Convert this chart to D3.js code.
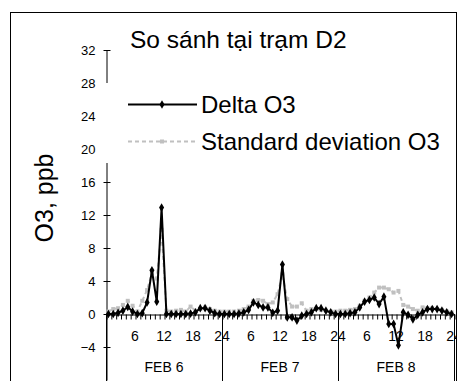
<!DOCTYPE html>
<html>
<head>
<meta charset="utf-8">
<script src="https://cdn.jsdelivr.net/npm/d3@7"></script>
<style>
  body { margin: 0; background: #fff; }
  svg text { font-family: "Liberation Sans", Arial, sans-serif; fill: #000; }
</style>
</head>
<body>
<div id="chart"></div>
<script>
// hourly values, Feb 6 - Feb 8 (72 hours)
const days = ['FEB 6', 'FEB 7', 'FEB 8'];
const hourLabels = [6, 12, 18, 24];
const yTicks = [-4, 0, 4, 8, 12, 16, 20, 24, 28, 32];

const deltaO3 = [
  0, 0, 0.15, 0.4, 0.85, 0.3, 0, 0.1, 1.4, 5.3, 1.5, 12.9,
  0, 0, 0, 0, 0, 0.05, 0.2, 0.7, 0.7, 0.4, 0.1, 0,
  0, 0, 0, 0.05, 0.2, 0.5, 1.4, 1.1, 0.8, 0.8, 0.15, 0.4,
  6.0, -0.4, -0.4, -0.8, -0.2, 0, 0.2, 0.7, 0.7, 0.4, 0.2, 0,
  0, 0, 0.1, 0.2, 0.8, 1.5, 1.7, 2.0, 1.2, 2.1, -1.2, -1.2,
  -3.8, 0.2, -0.1, -0.65, -0.1, 0.2, 0.6, 0.6, 0.6, 0.4, 0.2, 0
];
const stdO3 = [
  0.3, 0.6, 0.7, 1.1, 1.6, 1.0, 0.3, 1.6, 2.9, 5.0, 4.3, 10.2,
  0.4, 0.3, 0.4, 0.5, 0.3, 0.9, 0.4, 0.6, 0.8, 0.6, 0.4, 0.3,
  0.3, 0.3, 0.3, 0.4, 0.6, 0.9, 1.6, 1.7, 1.6, 1.2, 1.4, 2.4,
  4.8, 1.8, 0.9, 0.9, 1.3, 0.4, 0.6, 0.6, 0.5, 0.4, 0.3, 0.3,
  0.4, 0.4, 0.5, 0.6, 1.0, 1.6, 2.0, 2.6, 3.2, 3.2, 3.0, 2.6,
  2.8, 1.1, 0.9, 0.6, 0.4, 0.8, 0.7, 0.7, 0.6, 0.5, 0.3, 0.2
];

const W = 457, H = 381;
const svg = d3.select('#chart').append('svg')
  .attr('width', W).attr('height', H);

// outer frame
svg.append('rect')
  .attr('x', 10.5).attr('y', 12.5)
  .attr('width', 446).attr('height', 420)
  .attr('fill', 'none').attr('stroke', '#000');

const x = d3.scaleLinear().domain([0, 72]).range([106, 454]);
const y = d3.scaleLinear().domain([-8, 32]).range([380, 50]);
const y0 = y(0);

// Y axis
const yAxis = svg.append('g')
  .attr('transform', 'translate(106.5,0)')
  .call(d3.axisLeft(y).tickValues(yTicks).tickSize(3).tickPadding(8).tickSizeOuter(0));
yAxis.select('.domain').attr('stroke', '#000');
yAxis.selectAll('.tick line').attr('x1', 4).attr('x2', -3);
yAxis.selectAll('text').style('font-size', '13px');

// hour ticks
const hourAxis = svg.append('g')
  .attr('transform', `translate(0.5,${y0 + 0.5})`)
  .call(d3.axisBottom(x).tickValues(d3.range(0, 73)).tickSize(5).tickFormat('').tickSizeOuter(0));
hourAxis.select('.domain').attr('stroke', '#000');

// hour labels
svg.append('g')
  .selectAll('text')
  .data(d3.range(3).flatMap(d => hourLabels.map(h => d * 24 + h)))
  .join('text')
  .attr('x', d => x(d))
  .attr('y', y0 + 27)
  .attr('text-anchor', 'middle')
  .style('font-size', '14px')
  .text(d => (d % 24 === 0 ? 24 : d % 24));

// day separators
svg.append('g')
  .selectAll('line')
  .data([0, 24, 48, 72])
  .join('line')
  .attr('x1', d => Math.round(x(d)) + 0.5)
  .attr('x2', d => Math.round(x(d)) + 0.5)
  .attr('y1', y0)
  .attr('y2', H)
  .attr('stroke', '#000');

svg.append('g')
  .selectAll('text')
  .data(days)
  .join('text')
  .attr('x', (d, i) => x(i * 24 + 12))
  .attr('y', 372)
  .attr('text-anchor', 'middle')
  .style('font-size', '14px')
  .text(d => d);

// series
const line = d3.line()
  .x((d, i) => x(i + 0.5))
  .y(d => y(d));

svg.append('path')
  .datum(stdO3)
  .attr('d', line)
  .attr('fill', 'none')
  .attr('stroke', '#c0c0c0')
  .attr('stroke-width', 2)
  .attr('stroke-dasharray', '4,3');

svg.append('g')
  .selectAll('rect')
  .data(stdO3)
  .join('rect')
  .attr('x', (d, i) => x(i + 0.5) - 2)
  .attr('y', d => y(d) - 2)
  .attr('width', 4).attr('height', 4)
  .attr('fill', '#c0c0c0');

svg.append('path')
  .datum(deltaO3)
  .attr('d', line)
  .attr('fill', 'none')
  .attr('stroke', '#000')
  .attr('stroke-width', 2);

svg.append('g')
  .selectAll('path')
  .data(deltaO3)
  .join('path')
  .attr('d', d3.symbol(d3.symbolDiamond, 22))
  .attr('transform', (d, i) => `translate(${x(i + 0.5)},${y(d)})`)
  .attr('fill', '#000');

// legend box (white, covers the axis)
svg.append('rect')
  .attr('x', 101).attr('y', 83)
  .attr('width', 350).attr('height', 80)
  .attr('fill', '#fff');

const legend = svg.append('g');
legend.append('line')
  .attr('x1', 128).attr('x2', 197).attr('y1', 104.5).attr('y2', 104.5)
  .attr('stroke', '#000').attr('stroke-width', 2);
legend.append('path')
  .attr('d', d3.symbol(d3.symbolDiamond, 22))
  .attr('transform', 'translate(162,104.5)');
legend.append('text')
  .attr('x', 201).attr('y', 112.5)
  .style('font-size', '24px')
  .text('Delta O3');

legend.append('line')
  .attr('x1', 128).attr('x2', 197).attr('y1', 141.5).attr('y2', 141.5)
  .attr('stroke', '#c0c0c0').attr('stroke-width', 2)
  .attr('stroke-dasharray', '4,3');
legend.append('rect')
  .attr('x', 160).attr('y', 139.5).attr('width', 4).attr('height', 4)
  .attr('fill', '#c0c0c0');
legend.append('text')
  .attr('x', 201).attr('y', 149.5)
  .style('font-size', '24px')
  .text('Standard deviation O3');

// title
svg.append('text')
  .attr('x', 130).attr('y', 48)
  .style('font-size', '24.5px')
  .text('So sánh tại trạm D2');

// y label
svg.append('text')
  .attr('transform', 'translate(53,198) rotate(-90)')
  .attr('text-anchor', 'middle')
  .style('font-size', '25px')
  .text('O3, ppb');
</script>
</body>
</html>
